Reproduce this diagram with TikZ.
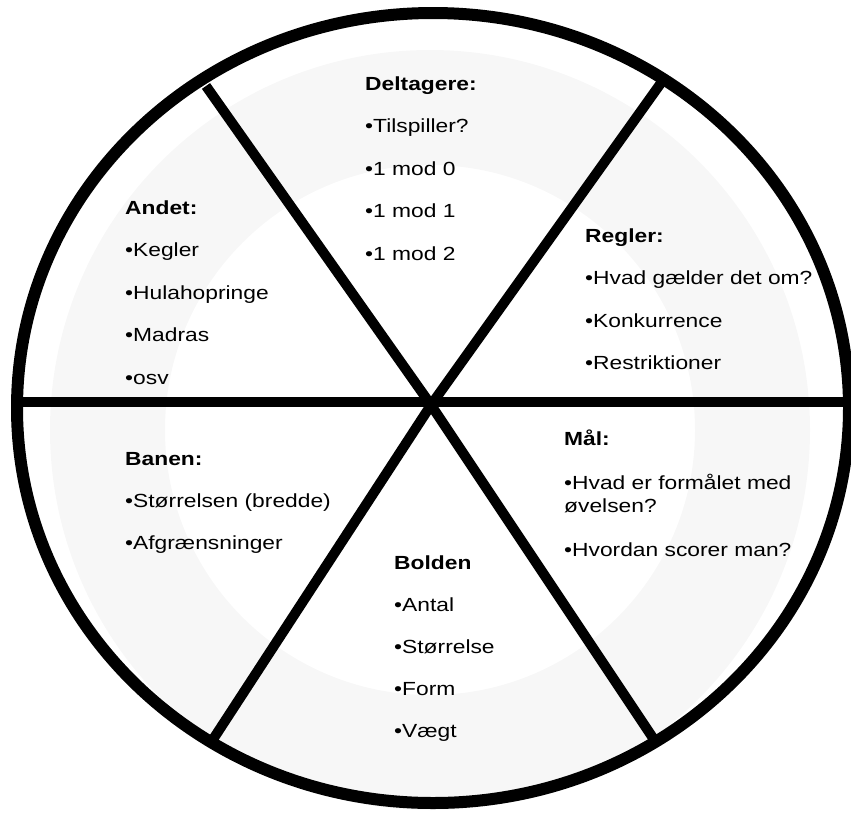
\documentclass[tikz,border=0pt]{standalone}
\usepackage{fontspec}
\setmainfont{Liberation Sans}[FakeStretch=1.2]
\tikzset{
  head/.style={anchor=base west,inner sep=0pt,font=\fontsize{19}{23}\selectfont\bfseries},
  item/.style={anchor=base west,inner sep=0pt,font=\fontsize{19}{23}\selectfont},
  spoke/.style={line width=10pt}
}
\begin{document}
\begin{tikzpicture}[x=1pt,y=-1pt]
\useasboundingbox (0,0) rectangle (851,812);
% faint watermark behind the wheel
\fill[gray!6,even odd rule] (430,430) circle[radius=380] (430,430) circle[radius=265];
% wheel
\coordinate (c) at (431,405);
\coordinate (ul) at (206,86);
\coordinate (ur) at (661,83);
\coordinate (ll) at (210,744);
\coordinate (lr) at (657,744);
\coordinate (l) at (14,402);
\coordinate (r) at (851,402);
\draw[spoke] (l) -- (r);
\draw[spoke] (c) -- (ul);
\draw[spoke] (c) -- (ur);
\draw[spoke] (c) -- (ll);
\draw[spoke] (c) -- (lr);
\draw[line width=12pt] (433,408) ellipse[x radius=416,y radius=395];
% Deltagere
\node[head] (del) at (365,90) {Deltagere:};
\foreach \txt [count=\i] in {Tilspiller?,1 mod 0,1 mod 1,1 mod 2}
  \node[item] (del-\i) at (365,90+42.5*\i) {•\txt};
% Andet
\node[head] (and) at (125,214) {Andet:};
\foreach \txt [count=\i] in {Kegler,Hulahopringe,Madras,osv}
  \node[item] (and-\i) at (125,214+42.5*\i) {•\txt};
% Regler
\node[head] (reg) at (585,242) {Regler:};
\foreach \txt [count=\i] in {Hvad gælder det om?,Konkurrence,Restriktioner}
  \node[item] (reg-\i) at (585,242+42.5*\i) {•\txt};
% Banen
\node[head] (ban) at (125,465) {Banen:};
\foreach \txt [count=\i] in {Størrelsen (bredde),Afgrænsninger}
  \node[item] (ban-\i) at (125,465+42*\i) {•\txt};
% Mål
\node[head] (maal) at (564,445) {Mål:};
\node[item] (maal-1) at (564,489) {•Hvad er formålet med};
\node[item] (maal-1b) at (564,512) {øvelsen?};
\node[item] (maal-2) at (564,556) {•Hvordan scorer man?};
% Bolden
\node[head] (bol) at (394,569) {Bolden};
\foreach \txt [count=\i] in {Antal,Størrelse,Form,Vægt}
  \node[item] (bol-\i) at (394,569+42*\i) {•\txt};
\end{tikzpicture}
\end{document}
